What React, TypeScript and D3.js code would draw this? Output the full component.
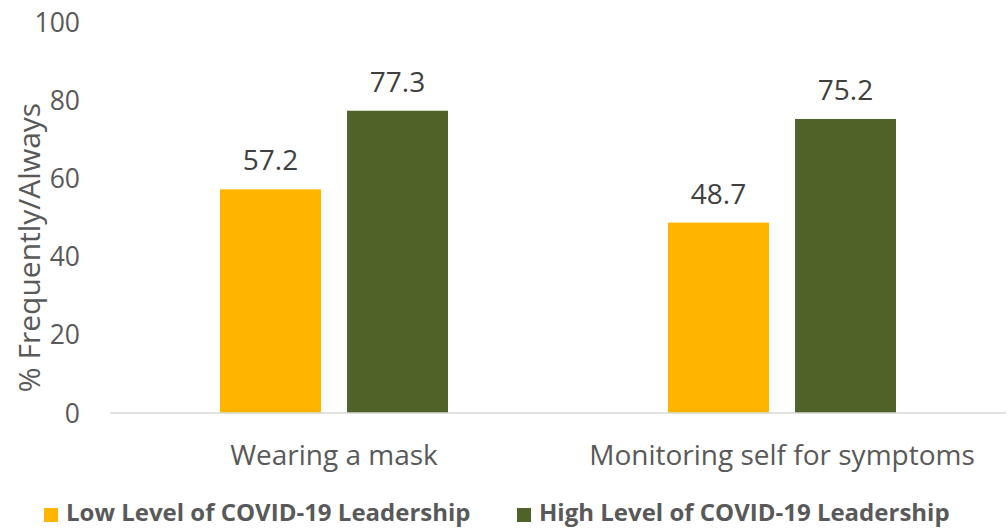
import * as d3 from "d3"

const categories = ["Wearing a mask", "Monitoring self for symptoms"]
const series = ["Low Level of COVID-19 Leadership", "High Level of COVID-19 Leadership"]
const lowValues = [57.2, 48.7]
const highValues = [77.3, 75.2]
const yTicks = [0, 20, 40, 60, 80, 100]
const colors = ["#FFB400", "#4F6228"]

const width = 1008
const height = 529
const font = "'Open Sans', sans-serif"

export default function App() {
  const x = d3.scaleBand<string>().domain(categories).range([110, 1006])
  const xInner = d3
    .scaleBand<string>()
    .domain(series)
    .range([0, x.bandwidth()])
    .paddingInner(0.205)
    .paddingOuter(0.866)
  const y = d3.scaleLinear().domain([0, 100]).range([413, 22])

  const valuesBySeries = [lowValues, highValues]

  return (
    <svg width={width} height={height} style={{ position: "absolute", left: 0, top: 0, background: "#fff" }}>
      {/* y tick labels */}
      {yTicks.map((t) => (
        <text key={t} x={80} y={y(t)} dy="0.36em" textAnchor="end" fill="#595959" fontFamily={font} fontSize={26.5}>
          {t}
        </text>
      ))}
      <text
        transform={`translate(40,${y(50) + 30}) rotate(-90)`}
        textAnchor="middle"
        fill="#595959"
        fontFamily={font}
        fontSize={30}
      >
        % Frequently/Always
      </text>

      {/* bars */}
      {categories.map((c, ci) =>
        series.map((s, si) => {
          const v = valuesBySeries[si][ci]
          const bx = (x(c) ?? 0) + (xInner(s) ?? 0)
          return (
            <g key={c + s}>
              <rect x={bx} y={y(v)} width={xInner.bandwidth()} height={y(0) - y(v)} fill={colors[si]} />
              <text
                x={bx + xInner.bandwidth() / 2}
                y={y(v) - 19}
                textAnchor="middle"
                fill="#404040"
                fontFamily={font}
                fontSize={28}
              >
                {v.toFixed(1)}
              </text>
            </g>
          )
        })
      )}

      {/* x axis */}
      <line x1={110} x2={1006} y1={y(0)} y2={y(0)} stroke="#d9d9d9" strokeWidth={1.5} />
      {categories.map((c) => (
        <text
          key={c}
          x={(x(c) ?? 0) + x.bandwidth() / 2}
          y={465}
          textAnchor="middle"
          fill="#595959"
          fontFamily={font}
          fontSize={28}
        >
          {c}
        </text>
      ))}

      {/* legend */}
      {series.map((s, i) => {
        const lx = i === 0 ? 44 : 517
        return (
          <g key={s}>
            <rect x={lx} y={508} width={14} height={14} fill={colors[i]} />
            <text x={lx + 22} y={521} fill="#595959" fontFamily={font} fontSize={24} fontWeight="bold">
              {s}
            </text>
          </g>
        )
      })}
    </svg>
  )
}
